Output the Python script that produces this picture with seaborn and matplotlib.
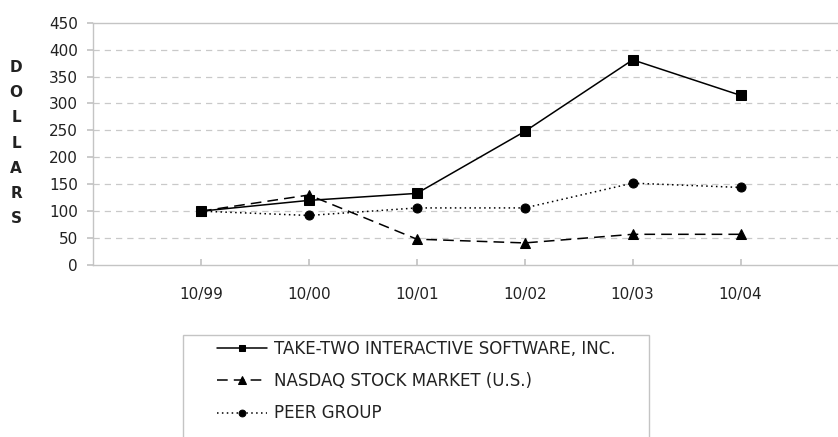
import matplotlib
matplotlib.use("Agg")
import matplotlib.pyplot as plt
from matplotlib.patches import Rectangle
import seaborn as sns
import pandas as pd

# chart data
periods = ["10/99", "10/00", "10/01", "10/02", "10/03", "10/04"]
take_two = [100, 120, 133, 248, 381, 315]
nasdaq = [100, 130, 48, 41, 57, 57]
peer_group = [100, 92, 106, 106, 152, 144]
y_ticks = [0, 50, 100, 150, 200, 250, 300, 350, 400, 450]

series_names = [
    "TAKE-TWO INTERACTIVE SOFTWARE, INC.",
    "NASDAQ STOCK MARKET (U.S.)",
    "PEER GROUP",
]

sns.set_theme(style="white")
plt.rcParams['font.family'] = ['DejaVu Sans']
plt.rcParams['text.color'] = '#222222'

df = pd.DataFrame({
    "pos": list(range(len(periods))) * 3,
    "value": take_two + nasdaq + peer_group,
    "series": sum([[n] * len(periods) for n in series_names], []),
})

W, H = 838, 437
fig = plt.figure(figsize=(8.38, 4.37), dpi=100)
ax = fig.add_axes([93 / W, 1 - 265 / H, 1 - 93 / W + 0.01, (265 - 22.7) / H])

styles = {
    series_names[0]: dict(ls="-", marker="s", ms=6.5),
    series_names[1]: dict(ls=(0, (7, 4)), marker="^", ms=7),
    series_names[2]: dict(ls=(0, (1, 2.2)), marker="o", ms=6.5),
}
for name in series_names:
    sub = df[df["series"] == name]
    st = styles[name]
    sns.lineplot(data=sub, x="pos", y="value", ax=ax, color="black", lw=1.1,
                 linestyle=st["ls"], marker=st["marker"], markersize=st["ms"],
                 markeredgecolor="black", label=name, legend=False)

ax.set_xlim(-1, 5.98)
ax.set_ylim(0, 450)
ax.set_yticks(y_ticks)
ax.set_xticks(range(len(periods)))
ax.set_xticklabels(periods)
ax.set_xlabel("")
ax.set_ylabel("")

for y in y_ticks[1:-1]:
    ax.axhline(y, color="#c9c9c9", lw=0.9, ls=(0, (5, 4)), zorder=0)

for s in ["top", "left", "bottom"]:
    ax.spines[s].set_visible(True)
    ax.spines[s].set_color("#c4c4c4")
    ax.spines[s].set_linewidth(1.0)
ax.spines["right"].set_visible(False)

ax.tick_params(axis="x", direction="in", length=4, color="#c4c4c4",
               pad=16, labelsize=11, labelcolor="#222222", bottom=True)
ax.tick_params(axis="y", direction="out", length=4, color="#c4c4c4",
               pad=7, labelsize=11, labelcolor="#222222", left=True)

fig.text(16 / W, 1 - 143 / H, "\n".join("DOLLARS"), ha="center", va="center",
         fontsize=11, fontweight="bold", linespacing=1.85)

# legend box (bottom edge runs off the figure)
leg_top = 1 - 335 / H
fig.patches.append(Rectangle((183 / W, -0.1), (649 - 183) / W, leg_top + 0.1,
                             transform=fig.transFigure, fill=False,
                             edgecolor="#c4c4c4", lw=1.0))

handles, labels = ax.get_legend_handles_labels()
leg = fig.legend(handles, labels, loc="upper left",
                 bbox_to_anchor=(212 / W, leg_top),
                 frameon=False, fontsize=12, handlelength=3.0,
                 labelspacing=0.85, borderaxespad=0, handletextpad=0.4,
                 borderpad=0.3, markerscale=0.75)

fig.savefig("out.png", dpi=100)
